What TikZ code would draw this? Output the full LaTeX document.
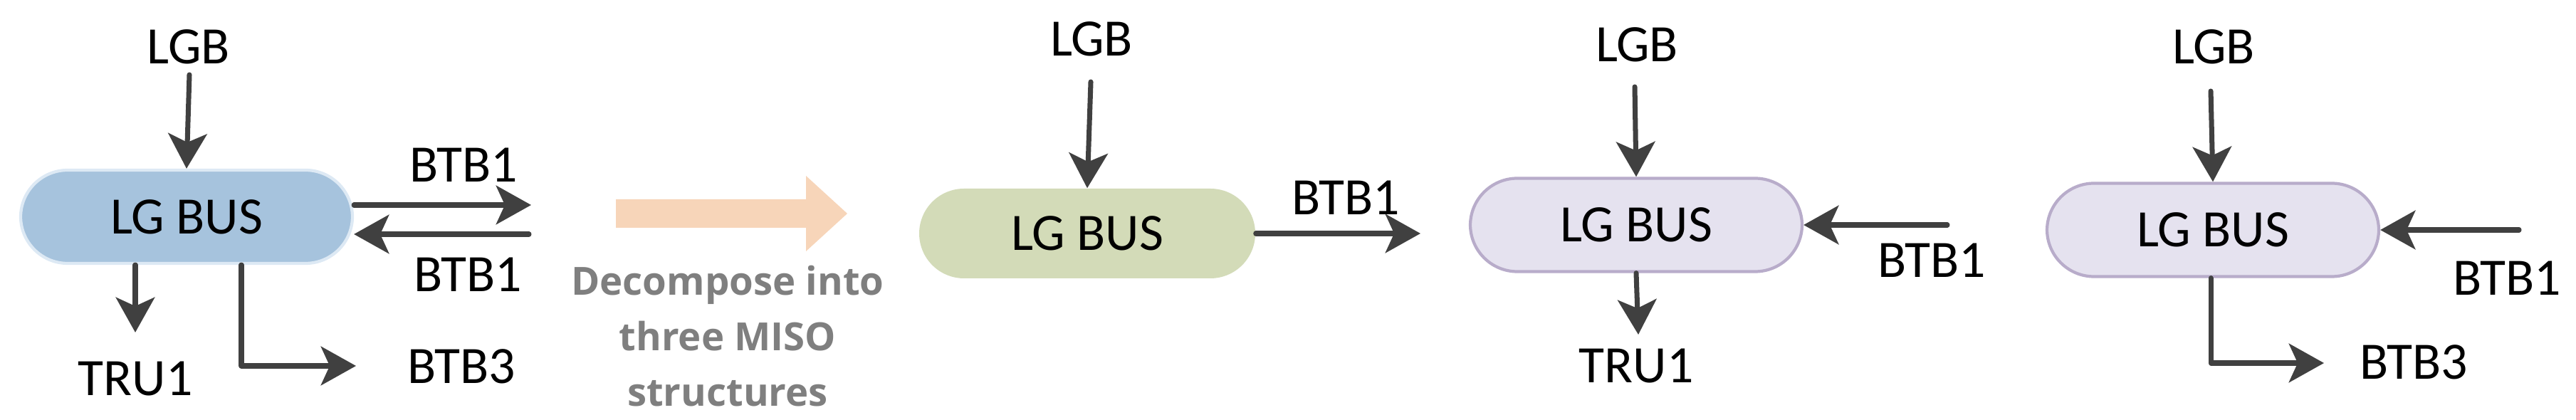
\documentclass[tikz,border=0pt]{standalone}
\usepackage{fontspec}
\setmainfont{Carlito}
\newfontfamily\notefont{Open Sans}
\usetikzlibrary{arrows.meta}

\definecolor{arrowgray}{HTML}{404040}
\definecolor{busblue}{HTML}{A6C3DD}
\definecolor{busblueedge}{HTML}{DDE9F4}
\definecolor{busgreen}{HTML}{D3DBB8}
\definecolor{buspurple}{HTML}{E5E2EF}
\definecolor{buspurpleedge}{HTML}{B8ACCA}
\definecolor{splitpeach}{HTML}{F7D5B9}
\definecolor{notegray}{HTML}{7F7F7F}

\tikzset{
    bus/.style={rectangle, rounded corners=0.66cm, minimum width=4.66cm,
        minimum height=1.31cm, inner sep=0pt, font=\fontsize{21}{25}\selectfont},
    bluebus/.style={bus, fill=busblue, draw=busblueedge, line width=1.2pt},
    greenbus/.style={bus, fill=busgreen, minimum width=4.72cm,
        minimum height=1.26cm, rounded corners=0.63cm},
    purplebus/.style={bus, fill=buspurple, draw=buspurpleedge, line width=1.2pt},
    signal/.style={inner sep=0pt, font=\fontsize{21}{25}\selectfont},
    note/.style={inner sep=0pt, align=center, text=notegray,
        font=\notefont\bfseries\fontsize{15.5}{22.3}\selectfont},
    flow/.style={draw=arrowgray, line width=2pt, line cap=round, line join=round,
        -{Stealth[length=14pt, width=15.5pt, inset=3.5pt]}},
}

\begin{document}
\begin{tikzpicture}
    \useasboundingbox (0,0) rectangle (36.18,-5.90);

    % Original bus with all its ports
    \node[bluebus] (busA) at (2.62,-3.045) {LG BUS};
    \node[signal] (lgbA) at (2.65,-0.66) {LGB};
    \node[signal] (btb1oA) at (6.51,-2.32) {BTB1};
    \node[signal] (btb1iA) at (6.57,-3.86) {BTB1};
    \node[signal] (truA) at (1.90,-5.32) {TRU1};
    \node[signal] (btb3A) at (6.48,-5.15) {BTB3};

    \coordinate (srcA) at (2.66,-1.05);
    \coordinate (outA) at (7.46,-2.88);
    \coordinate (inA) at (7.43,-3.29);
    \coordinate (truTipA) at (1.90,-4.67);
    \coordinate (btbTipA) at (5.00,-5.14);

    \draw[flow] (srcA) -- (busA.north);
    \draw[flow] (busA.east |- outA) -- (outA);
    \draw[flow] (inA) -- (busA.east |- inA);
    \draw[flow] (busA.south -| truTipA) -- (truTipA);
    \draw[flow] ([xshift=0.77cm]busA.south) |- (btbTipA);

    % Decomposition
    \fill[splitpeach] (8.65,-2.80) -- (11.32,-2.80) -- (11.32,-2.47) -- (11.90,-3.00)
        -- (11.32,-3.53) -- (11.32,-3.20) -- (8.65,-3.20) -- cycle;
    \node[note, anchor=north] (split) at (10.22,-3.72) {Decompose into\\three MISO\\structures};

    % MISO structure 1
    \node[greenbus] (busB) at (15.27,-3.28) {LG BUS};
    \node[signal] (lgbB) at (15.33,-0.55) {LGB};
    \node[signal] (btb1B) at (18.90,-2.78) {BTB1};
    \coordinate (srcB) at (15.32,-1.15);
    \coordinate (outB) at (19.95,-3.28);
    \draw[flow] (srcB) -- (busB.north);
    \draw[flow] (busB.east) -- (outB);

    % MISO structure 2
    \node[purplebus] (busC) at (22.98,-3.16) {LG BUS};
    \node[signal] (lgbC) at (22.99,-0.63) {LGB};
    \node[signal] (btb1C) at (27.13,-3.66) {BTB1};
    \node[signal] (truC) at (22.98,-5.14) {TRU1};
    \coordinate (srcC) at (22.96,-1.22);
    \coordinate (inC) at (27.35,-3.16);
    \coordinate (truTipC) at (23.01,-4.70);
    \draw[flow] (srcC) -- (busC.north);
    \draw[flow] (inC) -- (busC.east);
    \draw[flow] (busC.south) -- (truTipC);

    % MISO structure 3
    \node[purplebus] (busD) at (31.08,-3.23) {LG BUS};
    \node[signal] (lgbD) at (31.09,-0.66) {LGB};
    \node[signal] (btb1D) at (35.21,-3.91) {BTB1};
    \node[signal] (btb3D) at (33.90,-5.09) {BTB3};
    \coordinate (srcD) at (31.05,-1.28);
    \coordinate (inD) at (35.38,-3.23);
    \coordinate (btbTipD) at (32.64,-5.10);
    \draw[flow] (srcD) -- (busD.north);
    \draw[flow] (inD) -- (busD.east);
    \draw[flow] ([xshift=-0.03cm]busD.south) |- (btbTipD);

\end{tikzpicture}
\end{document}
